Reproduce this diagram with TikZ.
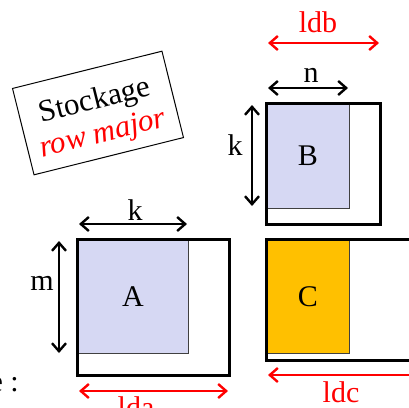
\documentclass[tikz,border=0pt]{standalone}
\usepackage{fontspec}
\setmainfont{Liberation Serif}[ItalicFont={Liberation Serif Italic}]
\usetikzlibrary{arrows.meta}
\definecolor{lavande}{HTML}{D6D8F3}
\definecolor{orangeC}{HTML}{FFC000}
\tikzset{
  cadre/.style={line width=3pt},
  bloc/.style={draw=black!75, line width=0.8pt, anchor=north west, inner sep=0pt, font=\fontsize{30}{36}\selectfont},
  dim/.style={line width=2.4pt, {Straight Barb[length=8pt,width=14pt]}-{Straight Barb[length=8pt,width=14pt]}},
  lab/.style={font=\fontsize{30}{36}\selectfont, inner sep=0pt},
}
\begin{document}
\begin{tikzpicture}[x=1pt,y=-1pt]
\useasboundingbox (0,0) rectangle (409,407);
\clip (0,0) rectangle (409,407);
% matrice A
\node [bloc, fill=lavande, minimum width=111pt, minimum height=114pt] (A) at (77,239) {A};
\draw [cadre] (77,239) rectangle (229,375);
\coordinate (kA1) at (79,224); \coordinate (kA2) at (187,224);
\draw [dim] (kA1) -- (kA2);
\node [lab] (kA) at (135,210) {k};
\coordinate (m1) at (59,241); \coordinate (m2) at (59,353);
\draw [dim] (m1) -- (m2);
\node [lab] (m) at (42,283) {m};
\coordinate (lda1) at (79,391); \coordinate (lda2) at (228,391);
\draw [dim, red] (lda1) -- (lda2);
\node [lab, red, anchor=base] (lda) at (136,417) {lda};
% matrice B
\node [bloc, fill=lavande, minimum width=83pt, minimum height=105pt] (B) at (266,103) {B};
\draw [cadre] (266,103) rectangle (380,224);
\coordinate (n1) at (268,88); \coordinate (n2) at (348,88);
\draw [dim] (n1) -- (n2);
\node [lab] (n) at (311,75) {n};
\coordinate (kB1) at (252,105); \coordinate (kB2) at (252,206);
\draw [dim] (kB1) -- (kB2);
\node [lab] (kB) at (235,145) {k};
\coordinate (ldb1) at (268,43); \coordinate (ldb2) at (379,43);
\draw [dim, red] (ldb1) -- (ldb2);
\node [lab, red, anchor=base] (ldb) at (318,32) {ldb};
% matrice C
\node [bloc, fill=orangeC, minimum width=83pt, minimum height=114pt] (C) at (266,239) {C};
\draw [cadre] (266,239) rectangle (440,360);
\coordinate (ldc1) at (268,375); \coordinate (ldc2) at (420,375);
\draw [dim, red] (ldc1) -- (ldc2);
\node [lab, red, anchor=base] (ldc) at (341,402) {ldc};
% legende
\node [draw, line width=1pt, rotate=14, minimum width=154pt, minimum height=89pt] (cadreStock) at (98,113) {};
\node [rotate=14, align=center, inner sep=0pt, font=\fontsize{31}{34}\selectfont] (stock) at (99,118)
      {Stockage\\\textcolor{red}{\itshape row major}};
\node [lab, anchor=base east] (suite) at (19,391) {e :};
\end{tikzpicture}
\end{document}
